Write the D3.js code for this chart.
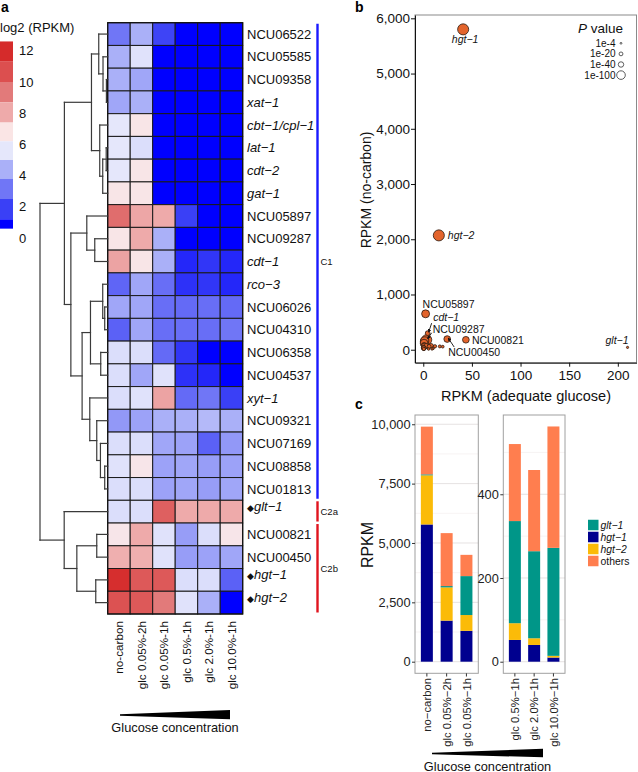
<!DOCTYPE html>
<html><head><meta charset="utf-8">
<script src="https://cdn.jsdelivr.net/npm/d3@7"></script>
<style>
body{margin:0;background:#fff}
svg{font-family:"Liberation Sans",Arial,Helvetica,sans-serif;display:block}
</style>
</head><body>
<svg id="fig" width="638" height="772"></svg>
<script>
// ---------------- DATA ----------------
// Panel a: heatmap
const genes = ["NCU06522","NCU05585","NCU09358","xat−1","cbt−1/cpl−1","lat−1","cdt−2","gat−1",
  "NCU05897","NCU09287","cdt−1","rco−3","NCU06026","NCU04310","NCU06358","NCU04537","xyt−1",
  "NCU09321","NCU07169","NCU08858","NCU01813","glt−1","NCU00821","NCU00450","hgt−1","hgt−2"];
const italicGenes = ["xat−1","cbt−1/cpl−1","lat−1","cdt−2","gat−1","cdt−1","rco−3","xyt−1","glt−1","hgt−1","hgt−2"];
const markedGenes = ["glt−1","hgt−1","hgt−2"];
const conditions = ["no-carbon","glc 0.05%-2h","glc 0.05%-1h","glc 0.5%-1h","glc 2.0%-1h","glc 10.0%-1h"];
// log2(RPKM) per gene (rows) x condition (columns)
const heatValues = [
  [3.8, 5.0, 2.6, 0, 0, 0],
  [5.0, 6.1, 0, 0, 0, 0],
  [5.0, 4.8, 0, 0, 0, 0],
  [4.8, 5.0, 0, 0, 0, 0],
  [6.2, 7.3, 0, 0, 0, 0],
  [6.2, 6.0, 0, 0, 0, 0],
  [6.2, 7.3, 0, 0, 0, 0],
  [7.3, 7.3, 0, 0, 0, 0],
  [10.4, 8.8, 8.7, 2.5, 0, 0],
  [7.3, 8.7, 5.0, 0, 0, 0],
  [8.9, 7.3, 5.0, 2.0, 2.3, 2.0],
  [3.4, 4.8, 3.6, 2.2, 2.3, 2.0],
  [4.8, 4.8, 3.6, 3.5, 3.6, 3.5],
  [3.3, 4.8, 3.6, 3.6, 3.6, 3.8],
  [6.0, 6.0, 3.5, 2.3, 0, 0.5],
  [6.0, 4.8, 6.1, 2.2, 2.0, 0.8],
  [6.0, 6.1, 8.9, 3.5, 3.8, 2.5],
  [4.5, 4.7, 5.0, 5.0, 5.2, 5.0],
  [6.0, 6.0, 4.8, 4.7, 3.3, 4.5],
  [6.1, 7.2, 4.7, 4.8, 4.6, 4.7],
  [6.0, 6.0, 4.7, 4.8, 4.6, 4.8],
  [6.0, 6.0, 10.8, 8.7, 8.7, 8.7],
  [7.2, 8.7, 6.1, 4.6, 6.0, 7.2],
  [8.6, 8.6, 6.1, 4.6, 4.7, 4.8],
  [12.5, 11.0, 11.0, 6.0, 6.0, 3.3],
  [11.2, 11.0, 10.0, 6.1, 5.0, 0]
];
// hierarchical clustering (merge heights)
const dendrogram = {h:68, c:[
  {h:43.5, c:[
    {h:16.3, c:[
      {h:9, c:["NCU06522", {h:4.7, c:["NCU05585", {h:1.3, c:["NCU09358","xat−1"]}]}]},
      {h:8, c:["cbt−1/cpl−1", {h:5, c:[{h:1.5, c:["lat−1","cdt−2"]}, "gat−1"]}]}
    ]},
    {h:37, c:[
      {h:21, c:["NCU05897", {h:13, c:["NCU09287","cdt−1"]}]},
      {h:25.7, c:[
        {h:17.3, c:[
          {h:5, c:["rco−3", {h:3, c:["NCU06026","NCU04310"]}]},
          {h:7, c:["NCU06358","NCU04537"]}
        ]},
        {h:18, c:["xyt−1", {h:11, c:["NCU09321", {h:7.3, c:["NCU07169", {h:3, c:["NCU08858","NCU01813"]}]}]}]}
      ]}
    ]}
  ]},
  {h:43.7, c:["glt−1", {h:31, c:[{h:11, c:["NCU00821","NCU00450"]}, {h:12, c:["hgt−1","hgt−2"]}]}]}
]};
const clusterNames = ["C1","C2a","C2b"];
const clusterFirst = ["NCU06522","glt−1","NCU00821"];
const clusterLast = ["NCU01813","glt−1","hgt−2"];
const legendBreaks = [12.6, 11.3, 10.0, 8.7, 7.4, 6.2, 5.0, 3.8, 2.5, 1.2, 0.6];
const legendTicks = [0, 2, 4, 6, 8, 10, 12];

// Panel b: scatter
const scatterGenes = ["hgt−1","hgt−2","NCU05897","cdt−1","NCU09287","NCU00821","NCU00450","glt−1",
  "NCU06522","NCU05585","NCU09358","xat−1","cbt−1/cpl−1","lat−1","cdt−2","gat−1","rco−3",
  "NCU06026","NCU04310","NCU06358","NCU04537","xyt−1","NCU09321","NCU07169","NCU08858","NCU01813"];
const rpkmGlucose = [41, 16, 2.4, 4.5, 3.5, 43.8, 24.6, 210, 0.6, 0.4, 0.5, 0.6, 1.2, 1.0, 0.8, 1.5, 5.5, 10, 9, 1.0, 3, 8, 17, 6, 20, 12];
const rpkmNoCarbon = [5800, 2070, 650, 300, 180, 180, 193, 42, 14, 35, 32, 30, 150, 75, 120, 160, 12, 25, 14, 70, 66, 70, 60, 60, 55, 62];
const negLog10P = [165, 165, 85, 30, 140, 60, 60, 3, 15, 30, 25, 28, 90, 50, 80, 90, 8, 10, 8, 40, 35, 30, 12, 20, 10, 15];
const scatterLabelled = ["hgt−1","hgt−2","NCU05897","cdt−1","NCU09287","NCU00821","NCU00450","glt−1"];
const pLegendLabels = ["1e-4","1e-20","1e-40","1e-100"];
const pLegendValues = [4, 20, 40, 100];
const scatterXTicks = [0, 50, 100, 150, 200];
const scatterYTicks = [0, 1000, 2000, 3000, 4000, 5000, 6000];

// Panel c: stacked bars
const barCondLow = ["no−carbon","glc 0.05%−2h","glc 0.05%−1h"];
const barCondHigh = ["glc 0.5%−1h","glc 2.0%−1h","glc 10.0%−1h"];
const seriesKeys = ["hgt−1","hgt−2","glt−1","others"];   // stacking order, bottom to top
const legendKeys = ["glt−1","hgt−1","hgt−2","others"];
const hgt1Low = [5780, 1730, 1300];
const hgt2Low = [2070, 1400, 665];
const glt1Low = [40, 55, 1640];
const othersLow = [2010, 2230, 895];
const hgt1High = [52, 40, 10];
const hgt2High = [40, 16, 4];
const glt1High = [244, 208, 258];
const othersHigh = [184, 194, 290];
const barTicksLow = [0, 2500, 5000, 7500, 10000];
const barTicksHigh = [0, 200, 400];

// ---------------- DRAWING ----------------
const svg = d3.select("#fig");
const ink = "#111";

// panel letters
[["a",1,12],["b",355,12],["c",355,409]].forEach(([t,x,y]) =>
  svg.append("text").attr("x",x).attr("y",y).attr("font-size",14).attr("font-weight","bold").text(t));

// ===== Panel a =====
const yH = d3.scaleBand().domain(genes).range([22.7, 614]);
const xH = d3.scaleBand().domain(conditions).range([107.7, 242.7]);
const colorStops = [1.2, 2.5, 3.8, 5.0, 6.2, 7.4, 8.7, 10.0, 11.3, 12.6];
const colorRange = ["#0000ff","#3a40f6","#7076f6","#aab0f8","#e5e7fb","#fae5e5","#eeaaaa","#e27a7a","#dc4f4f","#d52b2b"];
const heatColor = d3.scaleLinear().domain(colorStops).range(colorRange).clamp(true);

const cells = genes.flatMap((g,i) => heatValues[i].map((v,j) => ({g, c:conditions[j], v})));
svg.append("g").selectAll("rect").data(cells).join("rect")
  .attr("x", d => xH(d.c)).attr("y", d => yH(d.g))
  .attr("width", xH.bandwidth()).attr("height", yH.bandwidth())
  .attr("fill", d => heatColor(d.v)).attr("stroke", "#1a1a1a").attr("stroke-width", 1);
svg.append("rect").attr("x", xH.range()[0]).attr("y", yH.range()[0])
  .attr("width", xH.range()[1]-xH.range()[0]).attr("height", yH.range()[1]-yH.range()[0])
  .attr("fill","none").attr("stroke","#111").attr("stroke-width",1.2);

// row labels
const rowLab = svg.append("g").selectAll("text").data(genes).join("text")
  .attr("x", 247).attr("y", d => yH(d) + yH.bandwidth()/2).attr("dy","0.36em")
  .attr("font-size", 13).attr("fill", ink);
rowLab.each(function(d){
  const t = d3.select(this);
  if (markedGenes.includes(d)) t.append("tspan").attr("font-size",9).attr("dy","-0.05em").text("◆");
  t.append("tspan").attr("font-style", italicGenes.includes(d) ? "italic" : "normal").text(d);
});

// column labels
svg.append("g").selectAll("text").data(conditions).join("text")
  .attr("transform", d => `translate(${xH(d)+xH.bandwidth()/2},621) rotate(-90)`)
  .attr("text-anchor","end").attr("dy","0.35em").attr("font-size",11.7).attr("fill",ink).text(d => d);

// dendrogram
const root = d3.hierarchy(dendrogram, d => typeof d === "string" ? null : d.c);
const xD = d3.scaleLinear().domain([0, 68]).range([xH.range()[0], 40]);
root.eachAfter(n => {
  if (!n.children) { n.px = xD(0); n.py = yH(n.data) + yH.bandwidth()/2; }
  else { n.px = xD(n.data.h); n.py = d3.mean(n.children, c => c.py); }
});
const segs = [];
root.each(n => {
  if (!n.children) return;
  segs.push([n.px, d3.min(n.children, c=>c.py), n.px, d3.max(n.children, c=>c.py)]);
  n.children.forEach(c => segs.push([n.px, c.py, c.px, c.py]));
});
svg.append("g").selectAll("line").data(segs).join("line")
  .attr("x1", d=>d[0]).attr("y1", d=>d[1]).attr("x2", d=>d[2]).attr("y2", d=>d[3])
  .attr("stroke","#3a3a3a").attr("stroke-width",1.2).attr("stroke-linecap","square");

// cluster bars
const clusterColor = ["#1a1aff","#e0141e","#e0141e"];
clusterNames.forEach((name,i) => {
  const y1 = yH(clusterFirst[i]) + 1, y2 = yH(clusterLast[i]) + yH.bandwidth() - 1.5;
  svg.append("line").attr("x1",317.5).attr("x2",317.5).attr("y1",y1).attr("y2",y2)
    .attr("stroke",clusterColor[i]).attr("stroke-width",2.4);
  svg.append("text").attr("x",320.5).attr("y",(y1+y2)/2).attr("dy","0.35em")
    .attr("font-size",9.5).attr("fill",ink).text(name);
});

// color legend
svg.append("text").attr("x",0).attr("y",32).attr("font-size",13).attr("fill",ink).text("log2 (RPKM)");
const legY = d3.scaleLinear().domain([0,12]).range([238, 50.8]);
svg.append("g").selectAll("rect").data(d3.pairs(legendBreaks)).join("rect")
  .attr("x",0).attr("width",13).attr("y", d => legY(d[0])).attr("height", d => legY(d[1]) - legY(d[0]))
  .attr("fill", d => heatColor(d[0]));
svg.append("g").selectAll("text").data(legendTicks).join("text")
  .attr("x",19).attr("y", d => legY(d)).attr("dy","0.36em").attr("font-size",13).attr("fill",ink).text(d => d);

// glucose wedges
function wedge(x0, x1, yMid, h0, h1, label, ly) {
  svg.append("polygon").attr("points",
    `${x0},${yMid-h0/2} ${x1},${yMid-h1*0.55} ${x1},${yMid+h1*0.45} ${x0},${yMid+h0/2}`).attr("fill","#000");
  svg.append("text").attr("x",(x0+x1)/2).attr("y",ly).attr("text-anchor","middle")
    .attr("font-size",12.8).attr("fill",ink).text(label);
}
wedge(120, 230, 715, 1.6, 9.3, "Glucose concentration", 732);
wedge(432, 543, 753.5, 1.6, 8.5, "Glucose concentration", 770.5);

// ===== Panel b =====
const sx = d3.scaleLinear().domain([-8.5, 219.2]).range([415, 636.5]);
const sy = d3.scaleLinear().domain([-235, 6060]).range([362.7, 15]);
const rS = d3.scaleSqrt().domain([0,100]).range([0,4.3]);
svg.append("rect").attr("x",415).attr("y",15).attr("width",636.5-415).attr("height",362.7-15)
  .attr("fill","none").attr("stroke","#8a8a8a").attr("stroke-width",1);

const yAx = svg.append("g").attr("transform","translate(415,0)")
  .call(d3.axisLeft(sy).tickValues(scatterYTicks).tickFormat(d3.format(",")).tickSize(4).tickSizeOuter(0));
const xAx = svg.append("g").attr("transform","translate(0,362.7)")
  .call(d3.axisBottom(sx).tickValues(scatterXTicks).tickSize(4).tickSizeOuter(0));
[yAx, xAx].forEach(a => {
  a.selectAll("text").attr("font-size",13.5).attr("fill",ink).attr("font-family",null);
  a.selectAll("line,path").attr("stroke","#111");
});
yAx.selectAll("text").attr("x",-5);
xAx.selectAll("text").attr("y",8);
svg.append("text").attr("transform","translate(371,190) rotate(-90)").attr("text-anchor","middle")
  .attr("font-size",14).attr("fill",ink).text("RPKM (no-carbon)");
svg.append("text").attr("x",526).attr("y",401).attr("text-anchor","middle")
  .attr("font-size",14.5).attr("fill",ink).text("RPKM (adequate glucose)");

const pts = scatterGenes.map((g,i) => ({g, x:rpkmGlucose[i], y:rpkmNoCarbon[i], p:negLog10P[i]}))
  .sort((a,b) => b.p - a.p);
svg.append("g").selectAll("circle").data(pts).join("circle")
  .attr("cx", d => sx(d.x)).attr("cy", d => sy(d.y)).attr("r", d => Math.max(rS(d.p), 1.1))
  .attr("fill","#e3642c").attr("stroke","#2a1a10").attr("stroke-width",0.8);

// point labels (offsets in px from the point)
const labelLayout = {
  "hgt−1":    {dx:2,  dy:14,  anchor:"middle"},
  "hgt−2":    {dx:9,  dy:3.5, anchor:"start"},
  "NCU05897": {dx:-3, dy:-5.5,anchor:"start"},
  "cdt−1":    {dx:5.5,dy:-12, anchor:"start", arrow:[4,-10]},
  "NCU09287": {dx:6,  dy:-6.5,anchor:"start", arrow:[5,-7]},
  "NCU00821": {dx:6,  dy:4,   anchor:"start"},
  "NCU00450": {dx:1,  dy:17,  anchor:"start", arrow:[7,8]},
  "glt−1":    {dx:1,  dy:-3,  anchor:"end"}
};
svg.append("defs").append("marker").attr("id","ah").attr("viewBox","0 0 6 6").attr("refX",5).attr("refY",3)
  .attr("markerWidth",4).attr("markerHeight",4).attr("orient","auto")
  .append("path").attr("d","M0,0 L6,3 L0,6 z").attr("fill","#111");
scatterLabelled.forEach(g => {
  const i = scatterGenes.indexOf(g), L = labelLayout[g];
  const px = sx(rpkmGlucose[i]), py = sy(rpkmNoCarbon[i]);
  if (L.arrow) {
    svg.append("line").attr("x1", px + L.arrow[0]).attr("y1", py + L.arrow[1])
      .attr("x2", px + 1).attr("y2", py - 1).attr("stroke","#111").attr("stroke-width",0.9)
      .attr("marker-end","url(#ah)");
  }
  svg.append("text").attr("x", px + L.dx).attr("y", py + L.dy).attr("text-anchor", L.anchor)
    .attr("font-size",10.5).attr("fill",ink)
    .attr("font-style", italicGenes.includes(g) ? "italic" : "normal").text(g);
});

// P value legend
const pt = svg.append("text").attr("x",623).attr("y",33).attr("text-anchor","end").attr("font-size",13.5).attr("fill",ink);
pt.append("tspan").attr("font-style","italic").text("P");
pt.append("tspan").text(" value");
pLegendLabels.forEach((lab,i) => {
  const y = 43.3 + i*10.6;
  svg.append("text").attr("x",615.5).attr("y",y).attr("dy","0.35em").attr("text-anchor","end")
    .attr("font-size",10).attr("fill",ink).text(lab);
  svg.append("circle").attr("cx",621).attr("cy",y).attr("r",Math.max(rS(pLegendValues[i]),0.9))
    .attr("fill","#fff").attr("stroke","#333").attr("stroke-width",0.8);
});

// ===== Panel c =====
const seriesColor = {"glt−1":"#009688","hgt−1":"#00008f","hgt−2":"#fbbb08","others":"#ff7e4f"};
function barPanel(conds, cols, x0, x1, domain, ticks, fmt) {
  const y = d3.scaleLinear().domain(domain).range([673.3, 415]);
  const x = d3.scalePoint().domain(conds).range([x0, x1]).padding(0.6);
  const g = svg.append("g");
  // gridlines
  const minor = d3.pairs(ticks).map(p => (p[0]+p[1])/2).concat([ticks[ticks.length-1] + (ticks[1]-ticks[0])/2]);
  g.selectAll(".mn").data(minor.filter(v => y(v) > 416)).join("line")
    .attr("x1",x0).attr("x2",x1).attr("y1",d=>y(d)).attr("y2",d=>y(d)).attr("stroke","#f3eeee").attr("stroke-width",0.7);
  g.selectAll(".mj").data(ticks).join("line")
    .attr("x1",x0).attr("x2",x1).attr("y1",d=>y(d)).attr("y2",d=>y(d)).attr("stroke","#e6e2e2").attr("stroke-width",1);
  // stacked bars
  const table = conds.map((c,i) => { const o = {cond:c}; seriesKeys.forEach((k,j) => o[k] = cols[j][i]); return o; });
  const stacked = d3.stack().keys(seriesKeys)(table);
  g.selectAll(".s").data(stacked).join("g").attr("fill", d => seriesColor[d.key])
    .selectAll("rect").data(d => d).join("rect")
    .attr("x", d => x(d.data.cond) - 6).attr("width", 12)
    .attr("y", d => y(d[1])).attr("height", d => y(d[0]) - y(d[1]));
  // frame
  g.append("rect").attr("x",x0).attr("y",415).attr("width",x1-x0).attr("height",673.3-415)
    .attr("fill","none").attr("stroke","#a0a0a0").attr("stroke-width",1);
  // y axis
  const ya = g.append("g").attr("transform",`translate(${x0},0)`)
    .call(d3.axisLeft(y).tickValues(ticks).tickFormat(fmt).tickSize(3).tickSizeOuter(0));
  ya.select(".domain").remove();
  ya.selectAll("line").attr("stroke","#333");
  ya.selectAll("text").attr("font-size",12.8).attr("fill","#222").attr("font-family",null).attr("x",-4.5);
  // x ticks & labels
  g.selectAll(".xt").data(conds).join("line").attr("x1",d=>x(d)).attr("x2",d=>x(d))
    .attr("y1",673.3).attr("y2",676.5).attr("stroke","#333");
  g.selectAll(".xl").data(conds).join("text")
    .attr("transform", d => `translate(${x(d)},678) rotate(-90)`).attr("text-anchor","end").attr("dy","0.36em")
    .attr("font-size",11.3).attr("fill","#222").text(d => d);
}
barPanel(barCondLow, [hgt1Low, hgt2Low, glt1Low, othersLow], 415, 478.3, [-489, 10390], barTicksLow, d3.format(","));
barPanel(barCondHigh, [hgt1High, hgt2High, glt1High, othersHigh], 503.3, 565, [-27.7, 589.4], barTicksHigh, d3.format("d"));

svg.append("text").attr("transform","translate(373,545) rotate(-90)").attr("text-anchor","middle")
  .attr("font-size",16).attr("fill",ink).text("RPKM");

// legend c
legendKeys.forEach((k,i) => {
  const yc = 525 + i*12;
  svg.append("rect").attr("x",588).attr("y",yc-5.25).attr("width",10.5).attr("height",10.5).attr("fill",seriesColor[k]);
  svg.append("text").attr("x",600.5).attr("y",yc).attr("dy","0.36em").attr("font-size",10.4)
    .attr("font-style", k === "others" ? "normal" : "italic").attr("fill",ink).text(k);
});
</script>
</body></html>
